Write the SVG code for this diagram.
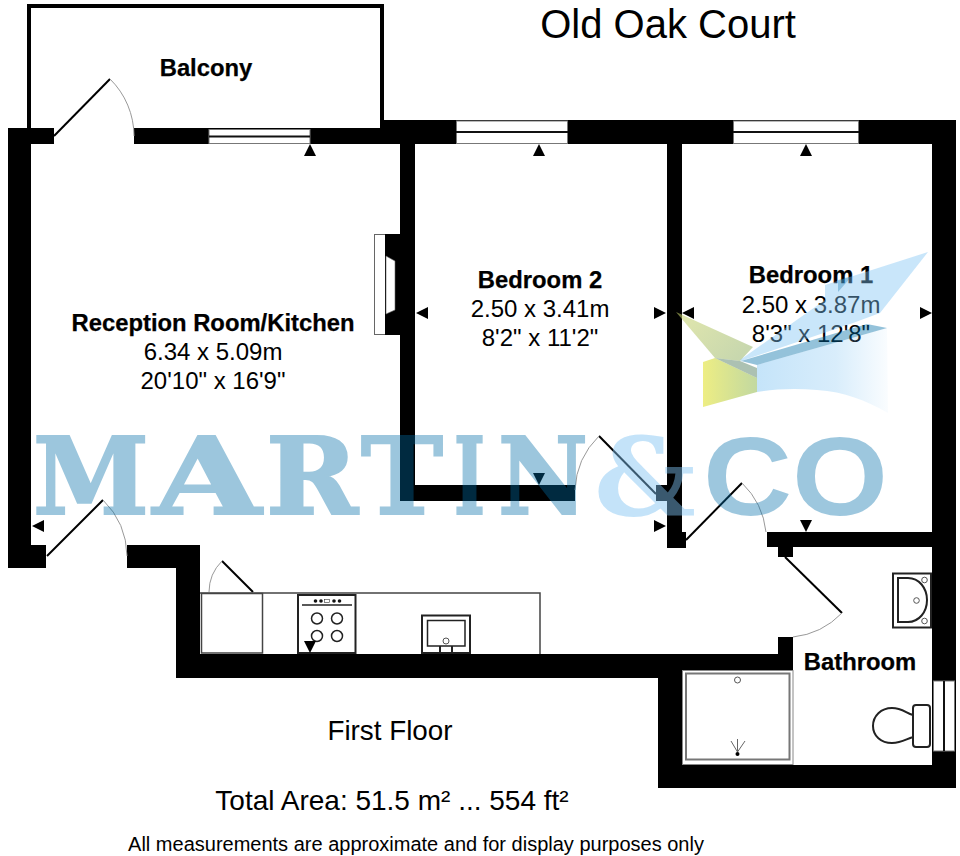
<svg xmlns="http://www.w3.org/2000/svg" width="960" height="856" viewBox="0 0 960 856">
<style>
text{font-family:"Liberation Sans",Arial,sans-serif;fill:#000;text-anchor:middle}
.b{font-weight:bold;font-size:23.8px;stroke:#000;stroke-width:.25px}
.r{font-size:24px}
.w{fill:#000}
.win{fill:#fff;stroke:#777;stroke-width:1}
.door{fill:none;stroke:#000;stroke-width:2}
.arc{fill:none;stroke:#999;stroke-width:1}
.fx{fill:#fff;stroke:#222;stroke-width:2}
.fxn{fill:none;stroke:#222;stroke-width:2}
.ci{fill:#fff;stroke:#555;stroke-width:1}
.mk text{font-family:"DejaVu Serif",serif;font-weight:bold;font-size:106px;text-anchor:start;fill:#006ea8;stroke:#006ea8;stroke-width:2.200px}
</style>
<defs>
<linearGradient id="gy" x1="0" y1="0" x2="1" y2="0"><stop offset="0" stop-color="#e8e85a" stop-opacity=".75"/><stop offset="1" stop-color="#a8c878" stop-opacity=".7"/></linearGradient>
<linearGradient id="gt" x1="0" y1="0" x2="1" y2="0.6"><stop offset="0" stop-color="#c9d36a" stop-opacity=".55"/><stop offset="1" stop-color="#a3bd78" stop-opacity=".6"/></linearGradient>
<linearGradient id="gb" x1="0" y1="0" x2="1" y2="0"><stop offset="0" stop-color="#7ec3f3" stop-opacity=".45"/><stop offset=".6" stop-color="#7ec3f3" stop-opacity=".3"/><stop offset="1" stop-color="#7ec3f3" stop-opacity=".04"/></linearGradient>
</defs>
<rect width="960" height="856" fill="#fff"/>
<g id="walls">
<path class="w" fill-rule="evenodd" d="M27 4H384V128H380V8H31V128H27Z"/>
<path class="w" d="M8 128H54V144H31V545H46V568H8Z"/>
<path class="w" d="M134 128H384V120H956V788H658V678H176V568H127V545H200V654H778V637H793V678H682V765H932V547H793V557H778V547H767V532H932V144H682V532H686V548H667V501H656V485H667V144H415V485H575V501H400V144H134Z"/>
</g>
<g id="windows">
<rect class="win" x="209" y="129.500" width="101" height="14"/><rect x="209" y="135.500" width="101" height="2" fill="#111"/>
<rect class="win" x="456.500" y="121" width="111" height="22.500"/><rect x="456" y="131" width="112" height="2" fill="#111"/>
<rect class="win" x="733.500" y="121" width="125" height="22.500"/><rect x="733" y="131" width="126" height="2" fill="#111"/>
<rect class="win" x="933.500" y="681" width="21" height="70"/><rect x="943" y="681" width="2" height="70" fill="#111"/>
</g>
<g id="doors">
<path class="door" d="M54 136L110 79"/><path class="arc" d="M110 79A80 80 0 0 1 134 136"/>
<path class="door" d="M47 556L103 500"/><path class="arc" d="M103 500A80 80 0 0 1 127 556"/>
<path class="door" d="M656 494L599 436"/><path class="arc" d="M599 436A80 80 0 0 0 575 490"/>
<path class="door" d="M686 540L742 483"/><path class="arc" d="M742 483A80 80 0 0 1 766 532"/>
<path class="door" d="M785 557L842 613"/><path class="arc" d="M842 613A80 80 0 0 1 793 637"/>
<path class="door" d="M253 592L222 561"/><path class="arc" d="M222 561A44 44 0 0 0 209 592"/>
</g>
<g id="fireplace">
<rect x="374.500" y="234.500" width="11" height="100" fill="#fff" stroke="#666"/>
<rect x="385" y="234" width="16" height="101" fill="#000"/>
<path d="M386 256L395 261V310L386 314Z" fill="#fff" stroke="#666" stroke-width=".6"/>
</g>
<g id="kitchen">
<path d="M200 593H540V654" fill="none" stroke="#444" stroke-width="1.500"/>
<rect x="201.500" y="593.500" width="61" height="59.500" fill="#fff" stroke="#444" stroke-width="1.500"/>
<rect class="fx" x="298" y="595" width="57.500" height="58"/>
<path class="fxn" d="M302 605H352" style="stroke-width:1.500"/>
<g fill="#111"><circle cx="315.500" cy="601" r="1.800"/><circle cx="321" cy="601" r="1.800"/><circle cx="334" cy="601" r="1.800"/><circle cx="339.500" cy="601" r="1.800"/></g>
<rect x="324.500" y="599.500" width="5" height="3" fill="#fff" stroke="#333" stroke-width=".6"/>
<circle class="fx" cx="317" cy="618.500" r="5.500" style="stroke-width:1.500"/><circle class="fx" cx="337" cy="618.500" r="5.500" style="stroke-width:1.500"/><circle class="fx" cx="317" cy="636" r="5.500" style="stroke-width:1.500"/><circle class="fx" cx="337" cy="636" r="5.500" style="stroke-width:1.500"/>
<rect class="fx" x="422" y="615.500" width="48" height="37.500"/>
<path class="fxn" d="M427.500 646V620.500H465V646Z" style="stroke-width:1.500"/>
<path class="fxn" d="M440 646V653M452 646V653"/>
<circle class="ci" cx="446" cy="641" r="3"/>
</g>
<g id="bathroom-fixtures">
<rect class="fx" x="893" y="573.500" width="38" height="54"/>
<path class="fxn" d="M898 578H908C919 578 927 588 927 600C927 612 919 622 908 622H898Z"/>
<circle class="ci" cx="924.500" cy="580" r="2.800"/><circle class="ci" cx="916.500" cy="600.500" r="2.800"/><circle class="ci" cx="924.500" cy="621" r="2.800"/>
<rect x="682.500" y="670.500" width="110.500" height="94" fill="#fff" stroke="#888"/>
<rect x="686" y="673.500" width="103.500" height="86" fill="#fff" stroke="#777" stroke-width="2"/>
<circle class="ci" cx="737.500" cy="680" r="3"/>
<circle cx="737.500" cy="754" r="2" fill="#000"/>
<path d="M737.500 752L731 741M737.500 752V739M737.500 752L745 741" stroke="#666" fill="none"/>
<path class="fx" d="M913 715C906 713 902 708 892 708C881 708 873 716 873 726C873 736 881 743 892 743C902 743 906 739 913 737Z"/>
<rect class="fx" x="913" y="705" width="17" height="42" rx="3"/>
</g>
<g id="markers">
<path d="M310 144L304 156H316Z"/><path d="M539 144L533 156H545Z"/><path d="M806 144L800 156H812Z"/>
<path d="M416 313L428 307V319Z"/><path d="M666 313L654 307V319Z"/><path d="M682 313L694 307V319Z"/><path d="M932 313L920 307V319Z"/>
<path d="M666 526L654 520V532Z"/><path d="M32 526L44 520V532Z"/>
<path d="M539 485L533 473H545Z"/><path d="M806 532L800 520H812Z"/><path d="M310 653L304 641H316Z"/>
</g>
<g id="labels">
<text x="668" y="38" font-size="40">Old Oak Court</text>
<text class="b" x="206" y="76">Balcony</text>
<text class="b" x="213" y="331">Reception Room/Kitchen</text>
<text class="r" x="213" y="360">6.34 x 5.09m</text>
<text class="r" x="213" y="389">20'10" x 16'9"</text>
<text class="b" x="540" y="288">Bedroom 2</text>
<text class="r" x="540" y="317">2.50 x 3.41m</text>
<text class="r" x="540" y="346">8'2" x 11'2"</text>
<text class="b" x="811" y="283">Bedroom 1</text>
<text class="r" x="811" y="313">2.50 x 3.87m</text>
<text class="r" x="811" y="342">8'3" x 12'8"</text>
<text class="b" x="860" y="670">Bathroom</text>
<text x="390" y="740" font-size="27.800">First Floor</text>
<text x="392" y="810" font-size="28">Total Area: 51.5 m² ... 554 ft²</text>
<text x="416" y="851" font-size="20">All measurements are approximate and for display purposes only</text>
</g>
<g id="watermark">
<path d="M757 365L887 328L888 413C865 400 845 392 817 390C795 388 775 389 757 392Z" fill="url(#gb)"/>
<path d="M676 312L753 347L740 361L715 358Z" fill="url(#gt)"/>
<path d="M703 362L715 358L757 378V392L703 407Z" fill="url(#gy)"/>
<path d="M715 358L740 361L757 368V378Z" fill="#7f9f88" fill-opacity=".65"/>
<path d="M740 360L825 300V285L928 252L880 313L853 323L741 361Z" fill="#7ec3f3" fill-opacity=".42"/>
<path d="M838 280L852 276L838 292Z" fill="#006ea8" fill-opacity=".3"/>
<path d="M741 361L867 324L887 328L757 365Z" fill="#006ea8" fill-opacity=".42"/>
<g class="mk" opacity=".385">
<text x="33" y="514" textLength="116" lengthAdjust="spacingAndGlyphs">M</text>
<text x="153" y="514" textLength="108" lengthAdjust="spacingAndGlyphs">A</text>
<text x="266" y="514" textLength="92" lengthAdjust="spacingAndGlyphs">R</text>
<text x="361" y="514" textLength="82" lengthAdjust="spacingAndGlyphs">T</text>
<text x="454" y="514" textLength="31" lengthAdjust="spacingAndGlyphs">I</text>
<text x="498" y="514" textLength="90" lengthAdjust="spacingAndGlyphs">N</text>
</g>
<text x="594" y="515" font-size="108" font-weight="bold" textLength="102" lengthAdjust="spacingAndGlyphs" style="font-family:'DejaVu Serif',serif;text-anchor:start;fill:#7ec3f3" fill-opacity=".46">&amp;</text>
<text x="703" y="515" font-size="112" font-weight="bold" textLength="185" lengthAdjust="spacingAndGlyphs" style="fill:#006ea8;text-anchor:start" fill-opacity=".385">CO</text>
</g>
</svg>
